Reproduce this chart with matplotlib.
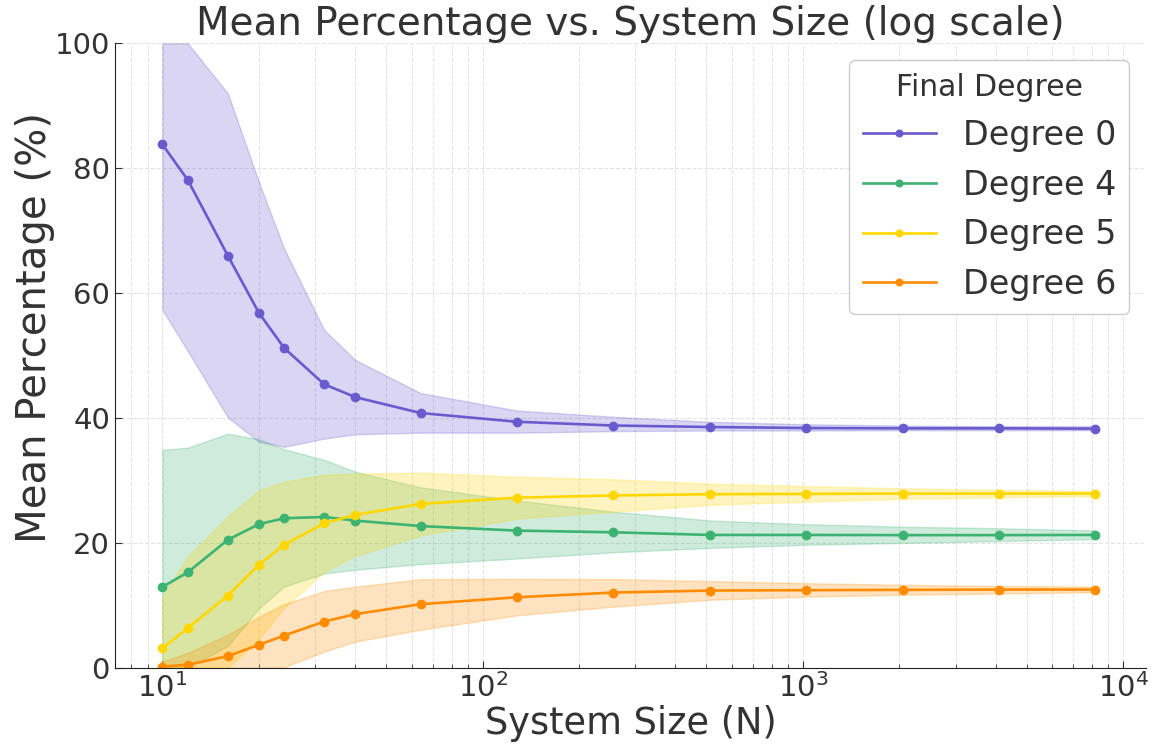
import numpy as np
import matplotlib
matplotlib.use("Agg")
import matplotlib.pyplot as plt
from matplotlib.ticker import MultipleLocator

# =========================
# DATA
# =========================
N = [10, 12, 16, 20, 24, 32, 40, 64, 128, 256, 512, 1024, 2048, 4096, 8192]

deg0_mean  = [83.8, 78.1, 66.0, 56.85, 51.2, 45.4, 43.35, 40.8, 39.4, 38.8, 38.56, 38.4, 38.35, 38.35, 38.3]
deg0_lower = [57.3, 50.7, 40.1, 36.2, 35.4, 36.7, 37.4, 37.65, 37.65, 37.9, 38.0, 38.0, 38.05, 38.05, 38.05]
deg0_upper = [100, 100, 92.0, 77.8, 67.1, 54.1, 49.3, 44.0, 41.2, 40.2, 39.4, 39.0, 38.8, 38.7, 38.7]

deg4_mean  = [12.96, 15.3, 20.5, 23.0, 23.95, 24.16, 23.57, 22.7, 21.97, 21.7, 21.28, 21.28, 21.25, 21.25, 21.28]
deg4_lower = [0, 0, 3.5, 9.5, 13.0, 15.1, 15.7, 16.6, 17.5, 18.5, 19.2, 19.7, 20.0, 20.3, 20.6]
deg4_upper = [34.9, 35.25, 37.5, 36.6, 35.0, 33.3, 31.4, 28.9, 26.8, 25.0, 23.6, 23.0, 22.6, 22.35, 22.0]

deg5_mean  = [3.15, 6.35, 11.57, 16.5, 19.7, 23.15, 24.5, 26.24, 27.25, 27.6, 27.8, 27.85, 27.9, 27.9, 27.9]
deg5_lower = [0, 0, 0, 4.6, 9.6, 15.4, 17.9, 21.2, 23.9, 25.0, 26.1, 26.6, 27.05, 27.3, 27.5]
deg5_upper = [11.4, 17.8, 24.2, 28.4, 29.8, 30.9, 31.1, 31.25, 30.6, 30.2, 29.5, 29.1, 28.75, 28.5, 28.3]

deg6_mean  = [0.2, 0.5, 1.87, 3.68, 5.17, 7.41, 8.59, 10.19, 11.3, 12.05, 12.37, 12.43, 12.48, 12.53, 12.53]
deg6_lower = [0, 0, 0, 0, 0.1, 2.6, 4.2, 6.1, 8.4, 9.8, 10.9, 11.4, 11.7, 11.9, 12.1]
deg6_upper = [1.0, 2.4, 5.3, 8.2, 10.2, 12.3, 13.0, 14.2, 14.24, 14.2, 13.9, 13.55, 13.3, 13.1, 13.0]

SERIES = [
    ("Degree 0", deg0_mean, deg0_lower, deg0_upper, "#6A5ACD"),
    ("Degree 4", deg4_mean, deg4_lower, deg4_upper, "#3CB371"),
    ("Degree 5", deg5_mean, deg5_lower, deg5_upper, "#FFD700"),
    ("Degree 6", deg6_mean, deg6_lower, deg6_upper, "#FF8C00"),
]

TEXT = "#333333"

# =========================
# PLOT
# =========================
fig = plt.figure(figsize=(11.6, 7.47), dpi=100)
ax = fig.add_subplot(111)
fig.subplots_adjust(left=0.099, right=0.988, bottom=0.106, top=0.942)

for label, mean, lo, hi, color in SERIES:
    ax.fill_between(N, lo, hi, color=color, alpha=0.25, linewidth=1)
    ax.plot(N, mean, "-o", color=color, linewidth=1.9, markersize=6, label=label)

ax.set_xscale("log")
ax.set_xlim(7.1, 11800)
ax.set_ylim(0, 100)
ax.yaxis.set_major_locator(MultipleLocator(20))

ax.set_title("Mean Percentage vs. System Size (log scale)", fontsize=28, color=TEXT, pad=5)
ax.set_xlabel("System Size (N)", fontsize=26.5, color=TEXT, labelpad=2)
ax.set_ylabel("Mean Percentage (%)", fontsize=29, color=TEXT)
ax.yaxis.set_label_coords(-0.058, 0.545)

ax.tick_params(axis="both", which="both", direction="in", colors=TEXT, labelsize=21)
ax.tick_params(axis="both", which="major", length=5)
ax.tick_params(axis="both", which="minor", length=3)

ax.grid(True, which="both", axis="x", linestyle="--", color="#e3e3e3", linewidth=0.8)
ax.grid(True, which="major", axis="y", linestyle="--", color="#e3e3e3", linewidth=0.8)
ax.set_axisbelow(True)
ax.spines[["top", "right"]].set_visible(False)
for s in ["left", "bottom"]:
    ax.spines[s].set_color("#222222")

leg = ax.legend(title="Final Degree", loc="upper right", fontsize=24, title_fontsize=21.5,
                handlelength=2.2, labelspacing=0.5, framealpha=1, edgecolor="#cccccc",
                markerscale=0.8)
for t in leg.get_texts():
    t.set_color(TEXT)
leg.get_title().set_color(TEXT)

fig.savefig("out.png", dpi=100)
